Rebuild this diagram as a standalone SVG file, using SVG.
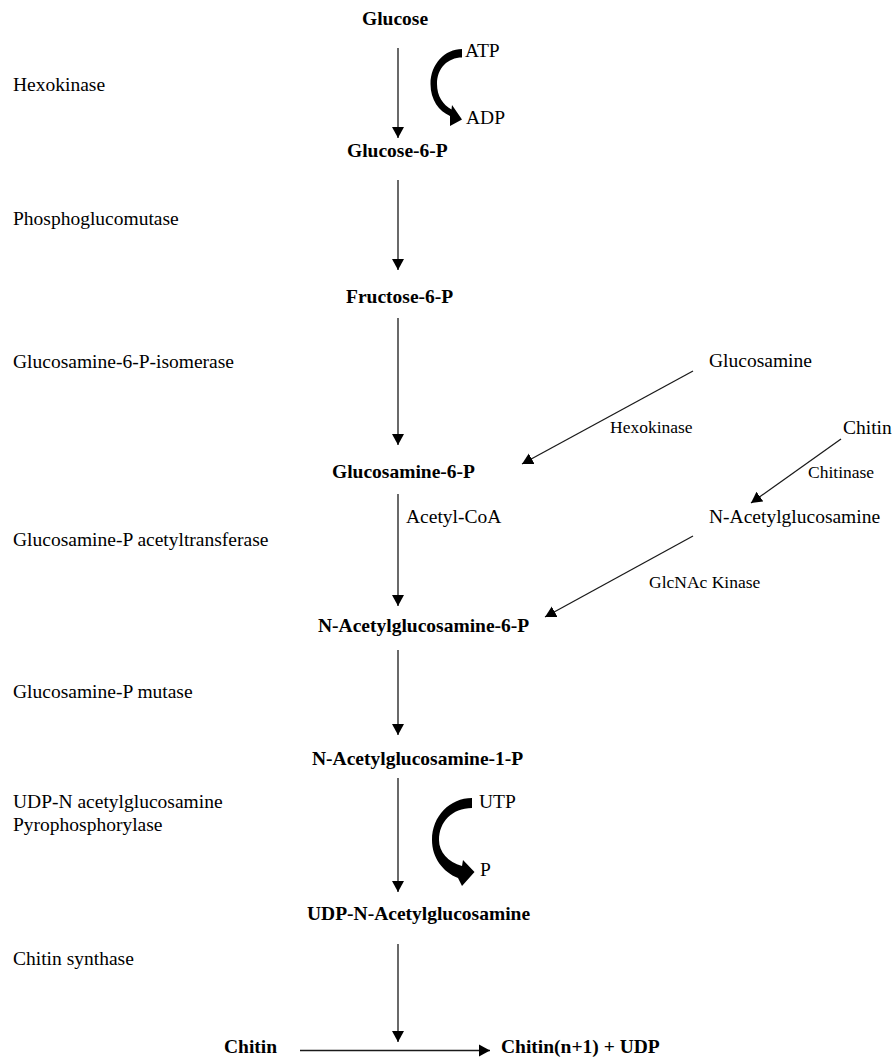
<svg xmlns="http://www.w3.org/2000/svg" width="892" height="1059" viewBox="0 0 892 1059">
<style>
text{font-family:"Liberation Serif","Times New Roman",serif;fill:#000}
.m{font-size:19.5px;font-weight:bold}
.e{font-size:19.5px}
.s{font-size:17.5px}
.c line{stroke:#1a1a1a;stroke-width:1.3;fill:none}
.cu{fill:#000}
</style>
<defs>
<marker id="ah" markerUnits="userSpaceOnUse" markerWidth="12" markerHeight="13" refX="11" refY="6.5" orient="auto">
<path d="M0,0.5 L11,6.5 L0,12.5 z" fill="#000"/>
</marker>
</defs>
<rect width="892" height="1059" fill="#fff"/>

<g id="n-glucose"><text class="m" x="362" y="25">Glucose</text></g>
<g id="n-g6p"><text class="m" x="347" y="157">Glucose-6-P</text></g>
<g id="n-f6p"><text class="m" x="346" y="303">Fructose-6-P</text></g>
<g id="n-glcn6p"><text class="m" x="332" y="478">Glucosamine-6-P</text></g>
<g id="n-glcnac6p"><text class="m" x="318" y="632">N-Acetylglucosamine-6-P</text></g>
<g id="n-glcnac1p"><text class="m" x="312" y="765">N-Acetylglucosamine-1-P</text></g>
<g id="n-udpglcnac"><text class="m" x="307" y="920">UDP-N-Acetylglucosamine</text></g>
<g id="n-chitin"><text class="m" x="224" y="1053">Chitin</text></g>
<g id="n-chitin-n1"><text class="m" x="501" y="1053">Chitin(n+1) + UDP</text></g>
<g id="n-glucosamine"><text class="e" x="709" y="367">Glucosamine</text></g>
<g id="n-chitin-r"><text class="e" x="843" y="434">Chitin</text></g>
<g id="n-nacglc"><text class="e" x="709" y="523">N-Acetylglucosamine</text></g>

<g id="enzymes">
<text class="e" x="13" y="91">Hexokinase</text>
<text class="e" x="13" y="225">Phosphoglucomutase</text>
<text class="e" x="13" y="368">Glucosamine-6-P-isomerase</text>
<text class="e" x="13" y="546">Glucosamine-P acetyltransferase</text>
<text class="e" x="13" y="698">Glucosamine-P mutase</text>
<text class="e" x="13" y="808">UDP-N acetylglucosamine</text>
<text class="e" x="13" y="831">Pyrophosphorylase</text>
<text class="e" x="13" y="965">Chitin synthase</text>
<text class="s" x="610" y="433">Hexokinase</text>
<text class="s" x="808" y="478">Chitinase</text>
<text class="s" x="649" y="588">GlcNAc Kinase</text>
</g>

<g id="cofactors">
<text class="e" x="465" y="57">ATP</text>
<text class="e" x="466" y="124">ADP</text>
<text class="e" x="406" y="523">Acetyl-CoA</text>
<text class="e" x="479" y="808">UTP</text>
<text class="e" x="480" y="876">P</text>
</g>

<g id="connectors" class="c">
<line x1="398" y1="48" x2="398" y2="138" marker-end="url(#ah)"/>
<line x1="398" y1="180" x2="398" y2="270" marker-end="url(#ah)"/>
<line x1="398" y1="318" x2="398" y2="445" marker-end="url(#ah)"/>
<line x1="398" y1="494" x2="398" y2="606" marker-end="url(#ah)"/>
<line x1="398" y1="650" x2="398" y2="735" marker-end="url(#ah)"/>
<line x1="398" y1="778" x2="398" y2="892" marker-end="url(#ah)"/>
<line x1="398" y1="944" x2="398" y2="1042" marker-end="url(#ah)"/>
<line x1="300" y1="1050.5" x2="490" y2="1050.5" marker-end="url(#ah)"/>
<line x1="693" y1="371" x2="522" y2="464" marker-end="url(#ah)"/>
<line x1="841" y1="439" x2="751" y2="503" marker-end="url(#ah)"/>
<line x1="693" y1="536" x2="545" y2="617" marker-end="url(#ah)"/>
<path class="cu" d="M462 49 C445 49 430.5 64 430.5 84 C430.5 100 439 111 450 116 L450 126 L462 119.5 L452 105 L451.5 109.5 C443 105 437 96 437 84 C437 68 448 57.5 462 57.5 Z"/>
<path class="cu" d="M472 798 C450 798 432 816 432 840 C432 858 443 872 458 878 L462 886 L474.5 872 L463 860 L462 866 C448 862 439 852 439 840 C439 822 452 808 472 808 Z"/>
</g>
</svg>
